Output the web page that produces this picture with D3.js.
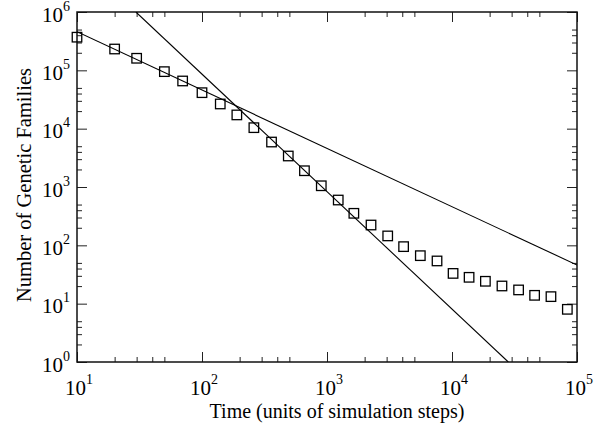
<!DOCTYPE html>
<html>
<head>
<meta charset="utf-8">
<script src="https://cdn.jsdelivr.net/npm/d3@7"></script>
<style>
  body { margin: 0; background: #fff; }
  text { font-family: "Liberation Serif", "Times New Roman", serif; fill: #000; }
</style>
</head>
<body>
<div id="chart"></div>
<script>
// data
const timeSteps = [10, 20, 30, 50, 70, 100, 140, 190, 260, 360, 490, 660, 900, 1230, 1640,
                   2250, 3060, 4100, 5580, 7590, 10200, 13700, 18500, 25100, 34100, 45800, 61900, 83700];
const families = [3.7e5, 2.32e5, 1.61e5, 9.5e4, 6.57e4, 4.14e4, 2.65e4, 1.72e4, 1.04e4, 5900, 3400, 1900, 1050, 598, 354,
                  223, 145, 95, 66.5, 54, 33, 28.3, 24.2, 20.1, 17.2, 13.9, 13.2, 8.0];

// two power-law fits (end points)
const fitA_x = [10, 1e5];
const fitA_y = [4.6e5, 46];
const fitB_x = [29.6, 28200];
const fitB_y = [1e6, 1];

const xExp = [1, 2, 3, 4, 5];
const yExp = [0, 1, 2, 3, 4, 5, 6];
const minorMult = [2, 3, 4, 5];

const W = 609, H = 428;
let margin = {top: 12, right: 32, bottom: 66, left: 77},
    width = W - margin.left - margin.right,
    height = H - margin.top - margin.bottom;

const svg = d3.select("#chart")
  .append("svg")
    .attr("width", W)
    .attr("height", H);

const g = svg.append("g")
    .attr("transform", "translate(" + margin.left + "," + margin.top + ")");

let x = d3.scaleLog().domain([10, 1e5]).range([0, width]);
let y = d3.scaleLog().domain([1, 1e6]).range([height, 0]);

const xMajor = xExp.map(e => Math.pow(10, e));
const yMajor = yExp.map(e => Math.pow(10, e));
const xMinor = [], yMinor = [];
xExp.slice(0, -1).forEach(e => minorMult.forEach(m => xMinor.push(m * Math.pow(10, e))));
yExp.slice(0, -1).forEach(e => minorMult.forEach(m => yMinor.push(m * Math.pow(10, e))));

function ticks(axis, vals, size) {
  return axis.tickValues(vals).tickSizeInner(-size).tickSizeOuter(0).tickFormat("");
}

// ticks on all four sides, pointing in (major 10px, minor 5px)
[[xMajor, 10], [xMinor, 5]].forEach(function(a) {
  g.append("g").attr("transform", "translate(0," + height + ")").call(ticks(d3.axisBottom(x), a[0], a[1]));
  g.append("g").call(ticks(d3.axisTop(x), a[0], a[1]));
});
[[yMajor, 10], [yMinor, 5]].forEach(function(a) {
  g.append("g").call(ticks(d3.axisLeft(y), a[0], a[1]));
  g.append("g").attr("transform", "translate(" + width + ",0)").call(ticks(d3.axisRight(y), a[0], a[1]));
});

g.selectAll(".domain").remove();
g.selectAll(".tick line").attr("stroke", "#222").attr("stroke-width", 1);

// frame
g.append("rect")
  .attr("width", width)
  .attr("height", height)
  .attr("fill", "none")
  .attr("stroke", "#111")
  .attr("stroke-width", 1.5);

// tick labels 10^n
function powLabel(sel, e) {
  sel.append("tspan").attr("font-size", 21).text("10");
  sel.append("tspan").attr("font-size", 14).attr("dy", -11).text(e);
}
xExp.forEach(function(e) {
  const t = g.append("text")
    .attr("x", x(Math.pow(10, e)) + 2)
    .attr("y", height + 33)
    .attr("text-anchor", "middle");
  powLabel(t, e);
});
yExp.forEach(function(e) {
  const t = g.append("text")
    .attr("x", -7)
    .attr("y", y(Math.pow(10, e)) + 9.5)
    .attr("text-anchor", "end");
  powLabel(t, e);
});

// axis titles
g.append("text")
  .attr("x", width / 2 + 10)
  .attr("y", height + 56)
  .attr("text-anchor", "middle")
  .attr("font-size", 20)
  .text("Time (units of simulation steps)");

g.append("text")
  .attr("transform", "translate(" + (-46) + "," + (height / 2 - 2) + ")rotate(-90)")
  .attr("text-anchor", "middle")
  .attr("font-size", 20.5)
  .text("Number of Genetic Families");

// fit lines
svg.append("clipPath").attr("id", "clip")
  .append("rect").attr("width", width).attr("height", height);

const plot = g.append("g").attr("clip-path", "url(#clip)");
const line = d3.line().x(d => x(d[0])).y(d => y(d[1]));

[[fitA_x, fitA_y], [fitB_x, fitB_y]].forEach(function(f) {
  plot.append("path")
    .datum(f[0].map((v, i) => [v, f[1][i]]))
    .attr("d", line)
    .attr("fill", "none")
    .attr("stroke", "#000")
    .attr("stroke-width", 1.1);
});

// squares
const s = 9.5;
g.selectAll("mysquare")
  .data(timeSteps.map((t, i) => ({t: t, n: families[i]})))
  .enter()
  .append("rect")
    .attr("x", d => x(d.t) - s / 2)
    .attr("y", d => y(d.n) - s / 2)
    .attr("width", s)
    .attr("height", s)
    .attr("fill", "none")
    .attr("stroke", "#000")
    .attr("stroke-width", 1.3);
</script>
</body>
</html>
